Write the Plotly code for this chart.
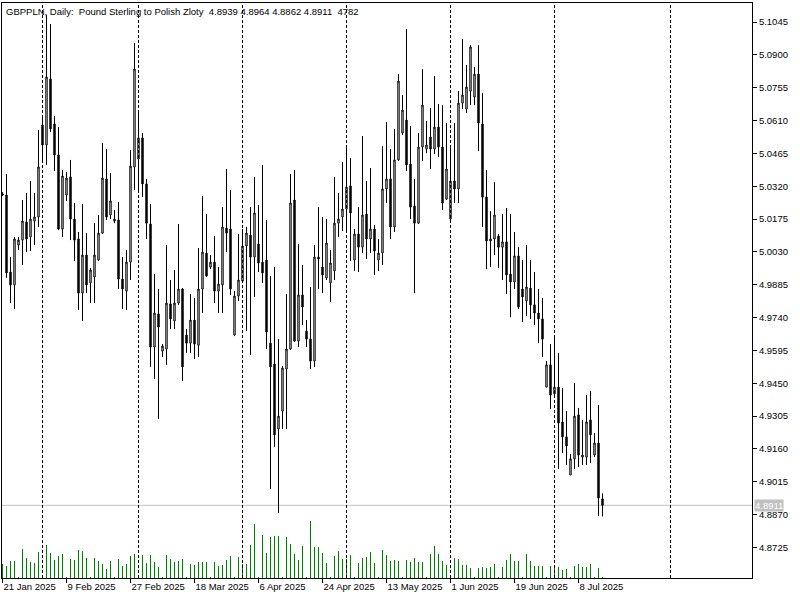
import pandas as pd
import plotly.graph_objects as go

# ---- data (bar index 0 = 21 Jan 2025, broker feed has Sun-Fri bars) ----
dates = [d for d in pd.date_range("2025-01-21", "2025-07-15") if d.weekday() != 5]

opens = [5.0286, 5.0281, 4.9941, 4.9884, 5.0060, 5.0082, 5.0162, 5.0096, 5.0166, 5.0184,
         5.0590, 5.0502, 5.0793, 5.0595, 5.0458, 5.0131, 5.0281, 5.0361, 5.0175, 5.0087,
         4.9848, 5.0016, 4.9893, 4.9919, 4.9994, 5.0113, 5.0352, 5.0193, 5.0166, 5.0171,
         4.9910, 4.9857, 4.9985, 5.0405, 5.0440, 5.0533, 5.0330, 5.0153, 4.9610, 4.9756,
         4.9592, 4.9601, 4.9800, 4.9725, 4.9804, 4.9866, 4.9663, 4.9627, 4.9729, 4.9618,
         4.9866, 5.0025, 4.9963, 4.9985, 4.9857, 4.9884, 5.0135, 5.0131, 4.9663, 4.9835,
         4.9901, 5.0056, 5.0104, 5.0007, 5.0065, 4.9985, 4.9994, 4.9627, 4.9535, 4.9248,
         4.9327, 4.9513, 4.9601, 5.0259, 4.9636, 4.9840, 4.9680, 4.9645, 4.9548, 5.0007,
         4.9963, 4.9915, 4.9893, 4.9946, 5.0157, 5.0184, 5.0219, 5.0321, 4.9994, 5.0109,
         5.0051, 5.0197, 5.0087, 5.0131, 4.9994, 5.0025, 5.0308, 5.0352, 5.0140, 5.0436,
         5.0555, 5.0612, 5.0418, 5.0233, 5.0157, 5.0493, 5.0484, 5.0537, 5.0484, 5.0581,
         5.0493, 5.0263, 5.0175, 5.0343, 5.0308, 5.0687, 5.0661, 5.0740, 5.0714, 5.0815,
         5.0595, 5.0272, 5.0078, 5.0087, 5.0100, 5.0051, 5.0074, 4.9932, 4.9897, 5.0012,
         4.9866, 4.9813, 4.9870, 4.9796, 4.9760, 4.9734, 4.9433, 4.9531, 4.9403, 4.9433,
         4.9279, 4.9213, 4.9045, 4.9116, 4.9310, 4.9124, 4.9124, 4.9288, 4.9133, 4.9186,
         4.8939]
highs = [5.0294, 5.0374, 5.0007, 5.0096, 5.0096, 5.0259, 5.0290, 5.0343, 5.0290, 5.0568,
         5.0634, 5.1076, 5.1036, 5.0630, 5.0581, 5.0392, 5.0383, 5.0436, 5.0246, 5.0118,
         5.0241, 5.0113, 4.9959, 5.0157, 5.0193, 5.0511, 5.0484, 5.0378, 5.0215, 5.0250,
         5.0007, 5.0038, 5.0480, 5.0952, 5.0656, 5.0555, 5.0352, 5.0241, 4.9932, 4.9866,
         4.9623, 5.0060, 4.9906, 4.9950, 5.0153, 4.9870, 4.9689, 4.9844, 4.9826, 5.0047,
         5.0277, 5.0197, 5.0016, 5.0100, 4.9963, 5.0228, 5.0396, 5.0303, 4.9857, 5.0109,
         5.0131, 5.0140, 5.0228, 5.0361, 5.0237, 5.0414, 5.0171, 4.9923, 4.9963, 4.9645,
         4.9526, 4.9844, 5.0374, 5.0391, 5.0065, 4.9972, 4.9729, 4.9875, 5.0060, 5.0228,
         5.0184, 5.0175, 5.0038, 5.0361, 5.0290, 5.0427, 5.0497, 5.0444, 5.0131, 5.0228,
         5.0542, 5.0343, 5.0400, 5.0149, 5.0087, 5.0497, 5.0603, 5.0484, 5.0573, 5.0815,
         5.0723, 5.1014, 5.0586, 5.0352, 5.0555, 5.0837, 5.0608, 5.0665, 5.0806, 5.0683,
         5.0678, 5.0599, 5.0497, 5.0599, 5.0740, 5.0970, 5.0855, 5.0943, 5.0846, 5.0943,
         5.0731, 5.0391, 5.0210, 5.0338, 5.0109, 5.0197, 5.0224, 5.0197, 5.0118, 5.0051,
         4.9994, 5.0060, 4.9994, 4.9941, 4.9866, 4.9826, 4.9548, 4.9623, 4.9650, 4.9584,
         4.9429, 4.9327, 4.9138, 4.9451, 4.9341, 4.9288, 4.9398, 4.9416, 4.9230, 4.9354,
         4.8964]
lows = [5.0277, 4.9915, 4.9804, 4.9778, 5.0038, 4.9972, 5.0029, 5.0034, 5.0060, 5.0140,
        5.0436, 5.0414, 5.0559, 5.0387, 5.0126, 5.0096, 5.0255, 5.0082, 4.9990, 4.9773,
        4.9725, 4.9848, 4.9804, 4.9804, 4.9990, 5.0109, 5.0171, 5.0175, 5.0157, 4.9866,
        4.9778, 4.9773, 4.9906, 5.0303, 5.0303, 5.0272, 5.0087, 4.9522, 4.9469, 4.9292,
        4.9566, 4.9531, 4.9689, 4.9689, 4.9796, 4.9460, 4.9584, 4.9584, 4.9557, 4.9566,
        4.9760, 4.9919, 4.9954, 4.9804, 4.9760, 4.9760, 5.0029, 4.9840, 4.9658, 4.9813,
        4.9897, 4.9680, 4.9575, 4.9831, 4.9941, 4.9893, 4.9601, 4.8983, 4.9169, 4.8877,
        4.9248, 4.9248, 4.9597, 4.9632, 4.9610, 4.9707, 4.9610, 4.9513, 4.9522, 4.9866,
        4.9848, 4.9906, 4.9809, 4.9906, 5.0096, 5.0122, 5.0118, 4.9990, 4.9946, 4.9941,
        5.0025, 4.9999, 5.0025, 4.9928, 4.9946, 4.9972, 5.0246, 5.0087, 5.0118, 5.0431,
        5.0546, 5.0387, 5.0175, 4.9848, 5.0153, 5.0431, 5.0466, 5.0396, 5.0462, 5.0449,
        5.0215, 5.0259, 5.0171, 5.0246, 5.0246, 5.0661, 5.0643, 5.0678, 5.0678, 5.0475,
        5.0140, 4.9954, 4.9963, 5.0016, 4.9959, 4.9906, 4.9844, 4.9742, 4.9866, 4.9778,
        4.9720, 4.9747, 4.9734, 4.9707, 4.9627, 4.9566, 4.9433, 4.9336, 4.9398, 4.9071,
        4.9142, 4.9089, 4.9045, 4.9071, 4.9080, 4.9089, 4.9089, 4.9098, 4.9124, 4.8864,
        4.8862]
closes = [5.0281, 4.9937, 4.9884, 5.0087, 5.0082, 5.0166, 5.0087, 5.0175, 5.0184, 5.0405,
          5.0502, 5.0802, 5.0573, 5.0458, 5.0131, 5.0365, 5.0356, 5.0175, 5.0082, 4.9848,
          5.0016, 4.9884, 4.9950, 5.0016, 5.0113, 5.0356, 5.0184, 5.0255, 5.0175, 4.9910,
          4.9866, 4.9985, 5.0409, 5.0837, 5.0533, 5.0330, 5.0157, 4.9610, 4.9760, 4.9698,
          4.9614, 4.9804, 4.9734, 4.9804, 4.9866, 4.9522, 4.9627, 4.9729, 4.9623, 4.9866,
          5.0029, 4.9923, 4.9985, 4.9857, 4.9888, 5.0140, 5.0113, 4.9866, 4.9835, 4.9906,
          5.0056, 5.0113, 5.0007, 5.0202, 4.9981, 4.9937, 4.9676, 4.9522, 4.9222, 4.9305,
          4.9517, 4.9601, 5.0246, 4.9636, 4.9840, 4.9787, 4.9645, 4.9548, 5.0007, 4.9999,
          4.9928, 5.0069, 4.9981, 5.0157, 5.0175, 5.0219, 5.0316, 5.0202, 5.0109, 5.0051,
          5.0193, 5.0087, 5.0131, 5.0034, 5.0025, 5.0308, 5.0352, 5.0140, 5.0436, 5.0784,
          5.0656, 5.0414, 5.0228, 5.0157, 5.0493, 5.0678, 5.0502, 5.0484, 5.0581, 5.0493,
          5.0246, 5.0396, 5.0343, 5.0308, 5.0687, 5.0723, 5.0758, 5.0935, 5.0815, 5.0599,
          5.0272, 5.0078, 5.0087, 5.0193, 5.0051, 5.0074, 4.9928, 4.9897, 5.0012, 4.9787,
          4.9831, 4.9875, 4.9796, 4.9760, 4.9734, 4.9645, 4.9531, 4.9398, 4.9433, 4.9274,
          4.9213, 4.9173, 4.9116, 4.9305, 4.9133, 4.9133, 4.9279, 4.9222, 4.9186, 4.8943,
          4.8911]
volumes = [70000, 60000, 85000, 85000, 1500, 145000, 100000, 80000, 75000, 130000,
           1500, 165000, 125000, 90000, 110000, 120000, 1500, 95000, 90000, 140000,
           135000, 100000, 1500, 100000, 85000, 70000, 45000, 85000, 1500, 95000,
           60000, 70000, 110000, 120000, 1500, 115000, 75000, 115000, 80000, 55000,
           1500, 115000, 95000, 80000, 85000, 95000, 1500, 70000, 65000, 80000,
           80000, 80000, 1500, 80000, 60000, 65000, 90000, 110000, 1500, 105000,
           70000, 70000, 165000, 270000, 1500, 215000, 125000, 205000, 210000, 210000,
           1500, 205000, 170000, 120000, 90000, 160000, 1500, 285000, 155000, 155000,
           125000, 75000, 1500, 110000, 135000, 95000, 95000, 115000, 1500, 75000,
           100000, 105000, 130000, 75000, 1500, 140000, 115000, 85000, 90000, 85000,
           1500, 90000, 80000, 100000, 80000, 80000, 1500, 120000, 160000, 120000,
           85000, 65000, 1500, 100000, 95000, 65000, 65000, 50000, 1500, 50000,
           55000, 50000, 55000, 70000, 1500, 55000, 90000, 120000, 85000, 85000,
           1500, 120000, 85000, 60000, 60000, 60000, 1500, 60000, 50000, 55000,
           40000, 45000, 1500, 60000, 70000, 55000, 55000, 70000, 1500, 50000,
           4782]

price_ticks = [5.1045, 5.0900, 5.0755, 5.0610, 5.0465, 5.0320, 5.0175, 5.0030, 4.9885,
               4.9740, 4.9595, 4.9450, 4.9305, 4.9160, 4.9015, 4.8870, 4.8725]
date_tick_idx = [0, 16, 32, 48, 64, 80, 96, 112, 128, 144]
date_tick_text = [dates[i].strftime("%-d %b %Y") for i in date_tick_idx]
symbol = "GBPPLN"
title_name = "Pound Sterling to Polish Zloty"

idx = list(range(len(dates)))
# month separators (first bar of each new month) + next month beyond the data
separators = [i for i in range(1, len(dates)) if dates[i].month != dates[i - 1].month]
separators.append(167)

FONT = "Liberation Sans, Arial, sans-serif"

fig = go.Figure()
fig.add_trace(go.Bar(
    x=idx, y=volumes, yaxis="y2", width=0.25,
    marker=dict(color="#008000", line=dict(width=0)), showlegend=False, hoverinfo="skip"))
fig.add_trace(go.Candlestick(
    x=idx, open=opens, high=highs, low=lows, close=closes,
    increasing=dict(line=dict(color="black", width=1), fillcolor="white"),
    decreasing=dict(line=dict(color="black", width=1), fillcolor="black"),
    whiskerwidth=0, showlegend=False))

shapes = []
for s in separators:
    shapes.append(dict(type="line", xref="x", yref="paper", x0=s, x1=s, y0=0, y1=1,
                       line=dict(color="black", width=1, dash="3px,2px"), layer="above"))
shapes.append(dict(type="line", xref="paper", yref="y", x0=0, x1=1,
                   y0=closes[-1], y1=closes[-1], line=dict(color="#C0C0C0", width=1), layer="below"))

title_text = (f"{symbol},\u00a0Daily:\u00a0\u00a0{title_name}\u00a0\u00a0"
              f"{opens[-1]:.4f}\u00a0{highs[-1]:.4f}\u00a0{lows[-1]:.4f}\u00a0{closes[-1]:.4f}"
              f"\u00a0\u00a0{volumes[-1]}")

annotations = [
    dict(xref="paper", yref="paper", x=0, y=1, xanchor="left", yanchor="top",
         xshift=2, yshift=-1, text=title_text, showarrow=False,
         font=dict(family=FONT, size=9.5, color="black")),
    dict(xref="paper", yref="y", x=1, y=closes[-1], xanchor="left", yanchor="middle",
         xshift=2, text=f"{closes[-1]:.4f}", showarrow=False, bgcolor="#C0C0C0",
         borderpad=0, font=dict(family=FONT, size=9.5, color="white")),
]

fig.update_layout(
    width=800, height=600,
    margin=dict(l=2, r=48, t=3, b=22),
    paper_bgcolor="white", plot_bgcolor="white",
    boxgap=0.5,
    font=dict(family=FONT, size=9.5, color="black"),
    xaxis=dict(range=[-0.125, 187.375], showgrid=False, zeroline=False,
               rangeslider=dict(visible=False),
               tickmode="array", tickvals=date_tick_idx, ticktext=date_tick_text,
               ticks="outside", ticklen=4, tickcolor="black",
               ticklabelposition="outside right",
               showline=True, mirror=True, linecolor="black", linewidth=1,
               tickfont=dict(family=FONT, size=9.5, color="black")),
    yaxis=dict(range=[4.8590, 5.1129], side="right", showgrid=False, zeroline=False,
               tickmode="array", tickvals=price_ticks, tickformat=".4f",
               ticks="outside", ticklen=4, tickcolor="black",
               showline=True, mirror=True, linecolor="black", linewidth=1,
               tickfont=dict(family=FONT, size=9.5, color="black")),
    yaxis2=dict(overlaying="y", range=[0, 2875000], visible=False),
    shapes=shapes,
    annotations=annotations,
    hovermode=False,
)

fig.write_html("out.html", config={"displayModeBar": False},
               post_script="document.body.style.margin='0';document.body.style.overflow='hidden';")
